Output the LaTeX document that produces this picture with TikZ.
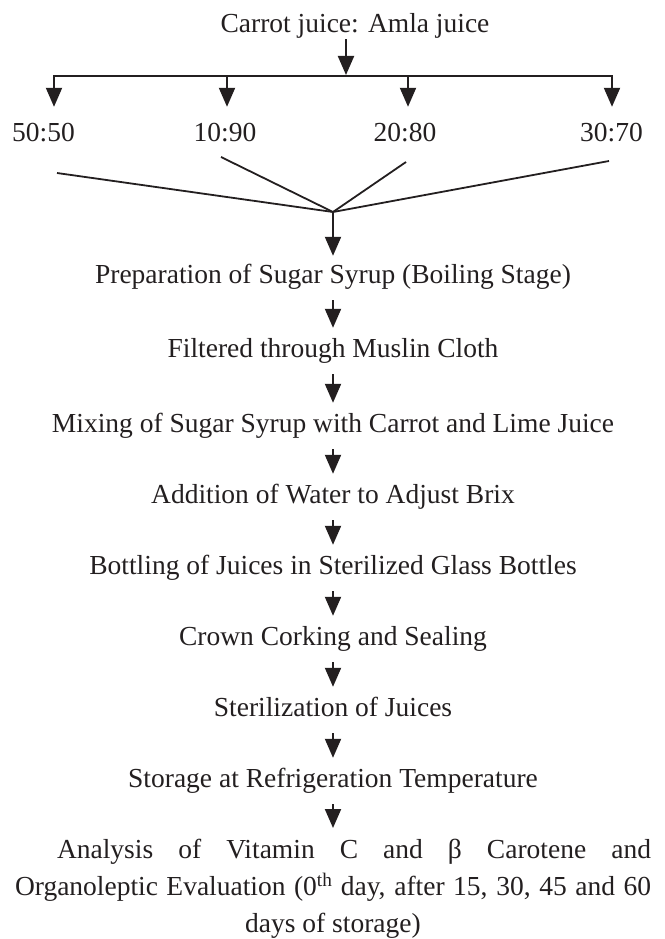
\documentclass[tikz,border=0pt]{standalone}
\usepackage{fontspec}
\setmainfont{Liberation Serif}
\usetikzlibrary{arrows.meta}
\definecolor{ink}{HTML}{231F20}

\begin{document}
\begin{tikzpicture}[x=1pt, y=-1pt,
        every node/.style={font=\fontsize{27.5}{37}\selectfont, text=ink, inner sep=0pt},
        stage/.style={anchor=base, text height=18pt, text depth=6pt},
        flow/.style={draw=ink, line width=2pt, -{Triangle[length=19pt,width=16pt]}, shorten <=11pt, shorten >=11pt},
        feed/.style={draw=ink, line width=1.8pt}]
        \useasboundingbox (0,0) rectangle (664,939);

        % Miscela di partenza
        \node[stage] (juice) at (355,33) {Carrot juice: Amla juice};
        \coordinate (split) at (346,76);
        \draw[flow, shorten <=0pt, shorten >=1pt] (juice.south -| split) -- (split);

        % Rapporti
        \node[stage] (r1) at (43.5,142) {50:50};
        \node[stage] (r2) at (225,142) {10:90};
        \node[stage] (r3) at (405,142) {20:80};
        \node[stage] (r4) at (611.5,142) {30:70};
        \coordinate (b1) at (54,76);
        \coordinate (b2) at (227,76);
        \coordinate (b3) at (408,76);
        \coordinate (b4) at (612,76);
        \draw[feed, line width=2pt, line cap=rect] (b1) -- (b4);
        \foreach \i in {1,...,4}
            \draw[flow, shorten <=0pt, shorten >=17pt] (b\i) -- (b\i |- r\i.north);

        % Linee convergenti
        \coordinate (join) at (333,212);
        \coordinate (s1) at (57,173);
        \coordinate (s2) at (221,157);
        \coordinate (s3) at (406,162);
        \coordinate (s4) at (609,161);
        \foreach \i in {1,...,4}
            \draw[feed] (s\i) -- (join);

        % Fasi del processo
        \node[stage] (prep) at (333,283) {Preparation of Sugar Syrup (Boiling Stage)};
        \node[stage] (filt) at (333,357) {Filtered through Muslin Cloth};
        \node[stage] (mix) at (333,432) {Mixing of Sugar Syrup with Carrot and Lime Juice};
        \node[stage] (water) at (333,503) {Addition of Water to Adjust Brix};
        \node[stage] (bottle) at (333,574) {Bottling of Juices in Sterilized Glass Bottles};
        \node[stage] (cork) at (333,645) {Crown Corking and Sealing};
        \node[stage] (steril) at (333,716) {Sterilization of Juices};
        \node[stage] (store) at (333,787) {Storage at Refrigeration Temperature};
        \node[text width=636pt, align=justify, anchor=north] (anal) at (333,839) {%
            \parfillskip=0pt\noindent\hspace*{42pt}Analysis of Vitamin C and β Carotene and\linebreak
            Organoleptic Evaluation (0\textsuperscript{th} day, after 15, 30, 45 and 60\linebreak
            \hspace*{\fill}days of storage)\hspace*{\fill}};

        \draw[flow, shorten <=0pt, shorten >=9pt] (join) -- (prep.north);
        \foreach \a/\b in {prep/filt, filt/mix, mix/water, water/bottle, bottle/cork, cork/steril, steril/store, store/anal}
            \draw[flow] (\a.south) -- (\b.north);
    \end{tikzpicture}
\end{document}
